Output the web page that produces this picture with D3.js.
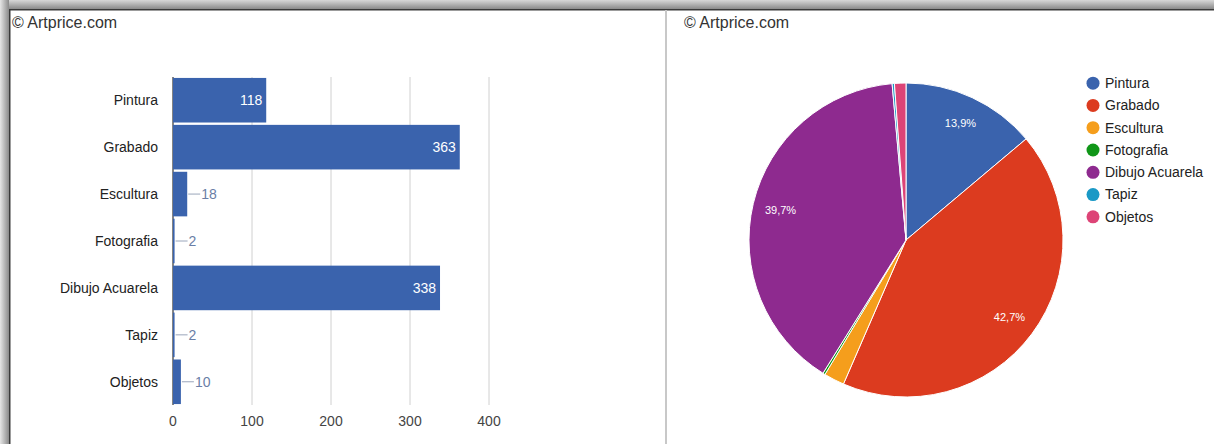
<!DOCTYPE html>
<html><head><meta charset="utf-8">
<script src="https://cdn.jsdelivr.net/npm/d3@7"></script>
<style>
html,body{margin:0;padding:0;background:#fff;}
svg{display:block;font-family:"Liberation Sans",Arial,sans-serif;}
</style></head>
<body>
<svg id="c" width="1214" height="444"></svg>
<script>
const categories = ["Pintura","Grabado","Escultura","Fotografia","Dibujo Acuarela","Tapiz","Objetos"];
const values = [118,363,18,2,338,2,10];
const xTicks = [0,100,200,300,400];
const sliceColors = ["#3a63ad","#dc3b1f","#f59e1c","#109618","#8e2a8f","#1a99c6","#dd4477"];
const barColor = "#3a63ad";
const credit = "© Artprice.com";

const svg = d3.select("#c");
const defs = svg.append("defs");
const gT = defs.append("linearGradient").attr("id","gT").attr("x1",0).attr("y1",0).attr("x2",0).attr("y2",1);
gT.append("stop").attr("offset","0%").attr("stop-color","#d8d8d8");
gT.append("stop").attr("offset","100%").attr("stop-color","#8a8a8a");
const gL = defs.append("linearGradient").attr("id","gL").attr("x1",0).attr("y1",0).attr("x2",1).attr("y2",0);
gL.append("stop").attr("offset","0%").attr("stop-color","#e6e6e6");
gL.append("stop").attr("offset","100%").attr("stop-color","#8a8a8a");

// frame
svg.append("rect").attr("x",0).attr("y",0).attr("width",1214).attr("height",9).attr("fill","url(#gT)");
svg.append("rect").attr("x",0).attr("y",0).attr("width",9).attr("height",444).attr("fill","url(#gL)");
svg.append("rect").attr("x",9).attr("y",9).attr("width",1205).attr("height",1.5).attr("fill","#3a3a3a");
svg.append("rect").attr("x",9).attr("y",9).attr("width",1.5).attr("height",435).attr("fill","#3a3a3a");
// divider
svg.append("rect").attr("x",665).attr("y",10).attr("width",2).attr("height",434).attr("fill","#c8c8c8");

svg.append("text").attr("x",12).attr("y",28).attr("font-size",16).attr("fill","#333").text(credit);
svg.append("text").attr("x",684).attr("y",28).attr("font-size",16).attr("fill","#333").text(credit);

// ---- bar chart ----
const x = d3.scaleLinear().domain([0,400]).range([173,489]);
const y = d3.scaleBand().domain(categories).range([77,405]).paddingInner(0.05).paddingOuter(0.02);

const gb = svg.append("g");
gb.selectAll("line.grid").data(xTicks).join("line")
  .attr("x1",d=>x(d)).attr("x2",d=>x(d)).attr("y1",77).attr("y2",405)
  .attr("stroke",d=>d===0?"#333":"#d0d0d0").attr("stroke-width",d=>d===0?1.2:1);
gb.selectAll("text.tick").data(xTicks).join("text")
  .attr("x",d=>x(d)).attr("y",426).attr("text-anchor","middle").attr("font-size",14).attr("fill","#444").text(d=>d);

const data = categories.map((c,i)=>({c,v:values[i]}));
gb.selectAll("rect.bar").data(data).join("rect")
  .attr("x",x(0)).attr("y",d=>y(d.c)).attr("width",d=>x(d.v)-x(0)).attr("height",y.bandwidth())
  .attr("fill",barColor);
gb.selectAll("text.cat").data(data).join("text")
  .attr("x",158).attr("y",d=>y(d.c)+y.bandwidth()/2).attr("dy","0.35em").attr("text-anchor","end")
  .attr("font-size",14).attr("fill","#222").text(d=>d.c);
const big = data.filter(d=>d.v>=50), small = data.filter(d=>d.v<50);
gb.selectAll("text.vin").data(big).join("text")
  .attr("x",d=>x(d.v)-4).attr("y",d=>y(d.c)+y.bandwidth()/2).attr("dy","0.35em").attr("text-anchor","end")
  .attr("font-size",14).attr("fill","#fff").text(d=>d.v);
gb.selectAll("line.lead").data(small).join("line")
  .attr("x1",d=>x(d.v)+1).attr("x2",d=>x(d.v)+13).attr("y1",d=>y(d.c)+y.bandwidth()/2).attr("y2",d=>y(d.c)+y.bandwidth()/2)
  .attr("stroke","#9aa6bb").attr("stroke-width",1);
gb.selectAll("text.vout").data(small).join("text")
  .attr("x",d=>x(d.v)+14).attr("y",d=>y(d.c)+y.bandwidth()/2).attr("dy","0.35em")
  .attr("font-size",14).attr("fill","#6a7ea6").text(d=>d.v);

// ---- pie ----
const cx = 906, cy = 240, r = 157;
const total = d3.sum(values);
const pie = d3.pie().sort(null).value(d=>d.v);
const arcs = pie(data);
const arc = d3.arc().innerRadius(0).outerRadius(r);
const gp = svg.append("g").attr("transform",`translate(${cx},${cy})`);
gp.selectAll("path").data(arcs).join("path").attr("d",arc)
  .attr("fill",(d,i)=>sliceColors[i]).attr("stroke","#fff").attr("stroke-width",1);
const lab = d3.arc().innerRadius(129).outerRadius(129);
const fmt = v => (v*100).toFixed(1).replace(".",",")+"%";
gp.selectAll("text").data(arcs.filter(d=>d.data.v/total>0.05)).join("text")
  .attr("transform",d=>`translate(${lab.centroid(d)})`).attr("text-anchor","middle").attr("dy","0.35em")
  .attr("font-size",11).attr("fill","#fff").text(d=>fmt(d.data.v/total));

// legend
const gl = svg.append("g");
const ly = d3.scaleBand().domain(categories).range([72,228]);
gl.selectAll("circle").data(categories).join("circle")
  .attr("cx",1093).attr("cy",d=>ly(d)+ly.bandwidth()/2).attr("r",6.5).attr("fill",(d,i)=>sliceColors[i]);
gl.selectAll("text").data(categories).join("text")
  .attr("x",1105).attr("y",d=>ly(d)+ly.bandwidth()/2).attr("dy","0.35em")
  .attr("font-size",14).attr("fill","#222").text(d=>d);
</script>
</body></html>
